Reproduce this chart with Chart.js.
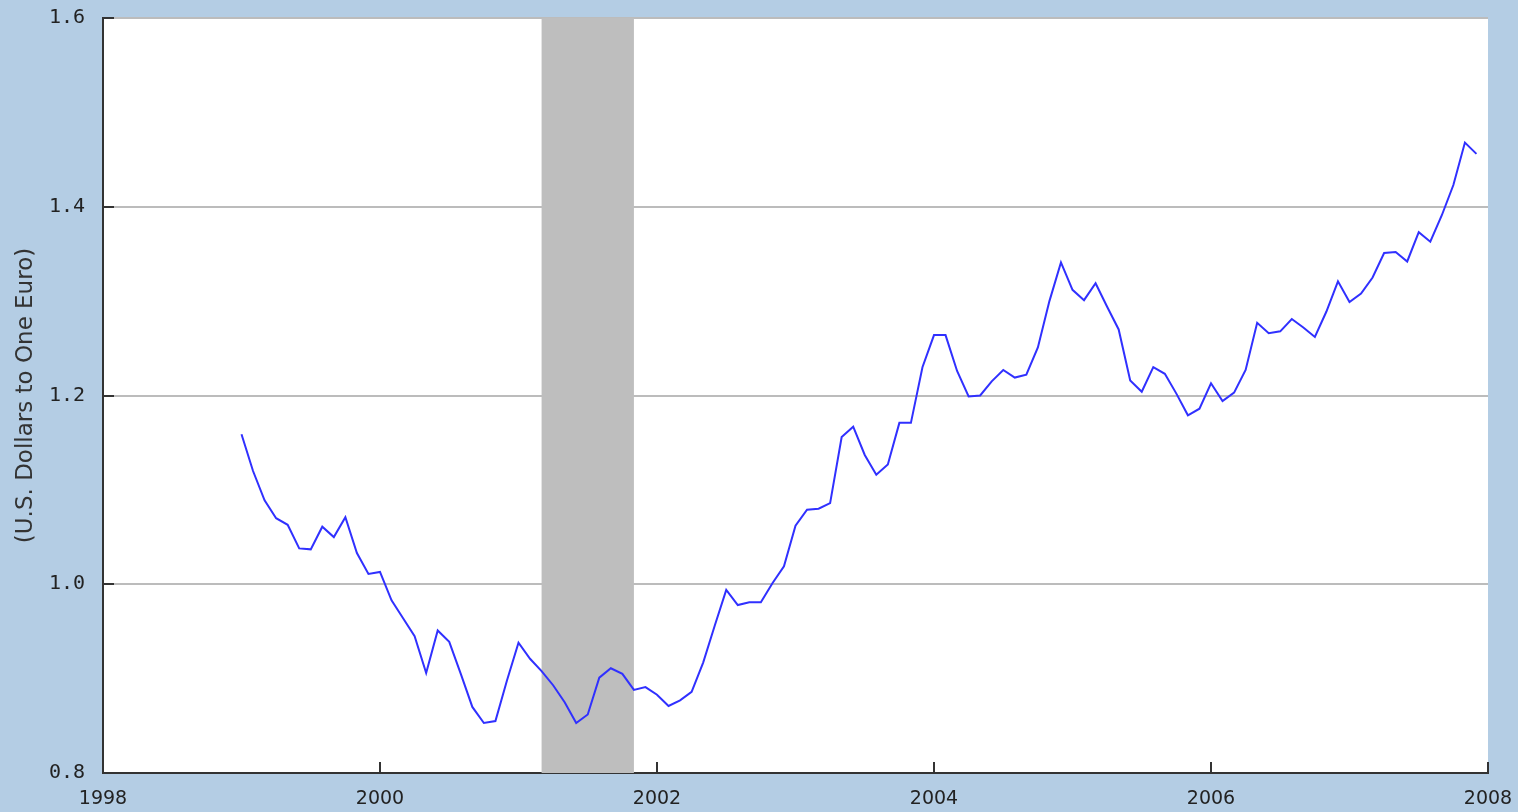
<!DOCTYPE html>
<html>
<head>
<meta charset="utf-8">
<script src="https://cdn.jsdelivr.net/npm/chart.js@4.4.0/dist/chart.umd.min.js"></script>
<style>
  html, body { margin: 0; padding: 0; background: #b4cde4; }
  #wrap { width: 1518px; height: 812px; }
</style>
</head>
<body>
<div id="wrap"><canvas id="c" width="1518" height="812"></canvas></div>
<script>
// Monthly U.S. Dollars to One Euro, Jan 1999 - Dec 2007
const startYear = 1999;
const rate1999 = [1.159, 1.120, 1.089, 1.070, 1.063, 1.038, 1.037, 1.061, 1.050, 1.071, 1.033, 1.011];
const rate2000 = [1.013, 0.983, 0.964, 0.945, 0.906, 0.951, 0.939, 0.905, 0.870, 0.853, 0.855, 0.898];
const rate2001 = [0.938, 0.921, 0.908, 0.893, 0.875, 0.853, 0.862, 0.901, 0.911, 0.905, 0.888, 0.891];
const rate2002 = [0.883, 0.871, 0.877, 0.886, 0.917, 0.956, 0.994, 0.978, 0.981, 0.981, 1.001, 1.019];
const rate2003 = [1.062, 1.079, 1.080, 1.086, 1.156, 1.167, 1.137, 1.116, 1.127, 1.171, 1.171, 1.230];
const rate2004 = [1.264, 1.264, 1.226, 1.199, 1.200, 1.215, 1.227, 1.219, 1.222, 1.251, 1.300, 1.341];
const rate2005 = [1.312, 1.301, 1.319, 1.294, 1.270, 1.216, 1.204, 1.230, 1.223, 1.202, 1.179, 1.186];
const rate2006 = [1.213, 1.194, 1.203, 1.227, 1.277, 1.266, 1.268, 1.281, 1.272, 1.262, 1.289, 1.321];
const rate2007 = [1.299, 1.308, 1.325, 1.351, 1.352, 1.342, 1.373, 1.363, 1.391, 1.423, 1.468, 1.456];
const yearlyRates = [rate1999, rate2000, rate2001, rate2002, rate2003, rate2004, rate2005, rate2006, rate2007];

// Recession (shaded) period: [year, month]
const recessionStart = [2001, 3];
const recessionEnd = [2001, 11];

// Axis ticks
const xTickYears = [1998, 2000, 2002, 2004, 2006, 2008];
const yTickValues = [0.8, 1.0, 1.2, 1.4, 1.6];

const points = [];
yearlyRates.forEach((arr, yi) => {
  arr.forEach((v, m) => points.push({ x: startYear + yi + m / 12, y: v }));
});

const bgPlugin = {
  id: 'bg',
  beforeDraw(chart) {
    const { ctx, chartArea: a } = chart;
    ctx.save();
    ctx.fillStyle = '#b4cde4';
    ctx.fillRect(0, 0, chart.width, chart.height);
    ctx.fillStyle = '#ffffff';
    ctx.fillRect(a.left, a.top, a.right - a.left, a.bottom - a.top);
    ctx.restore();
  }
};

const recessionPlugin = {
  id: 'recession',
  beforeDatasetsDraw(chart) {
    const { ctx, chartArea: a, scales } = chart;
    const x0 = scales.x.getPixelForValue(recessionStart[0] + (recessionStart[1] - 1) / 12);
    const x1 = scales.x.getPixelForValue(recessionEnd[0] + (recessionEnd[1] - 1) / 12);
    ctx.save();
    ctx.fillStyle = '#bebebe';
    ctx.fillRect(x0, a.top, x1 - x0, a.bottom - a.top);
    ctx.restore();
  }
};

const innerTicksPlugin = {
  id: 'innerTicks',
  afterDatasetsDraw(chart) {
    const { ctx, chartArea: a, scales } = chart;
    ctx.save();
    ctx.strokeStyle = '#333333';
    ctx.lineWidth = 2;
    xTickYears.forEach(v => {
      const px = Math.round(scales.x.getPixelForValue(v));
      ctx.beginPath();
      ctx.moveTo(px, a.bottom);
      ctx.lineTo(px, a.bottom - 11);
      ctx.stroke();
    });
    yTickValues.forEach(v => {
      const py = Math.round(scales.y.getPixelForValue(v));
      ctx.beginPath();
      ctx.moveTo(a.left, py);
      ctx.lineTo(a.left + 11, py);
      ctx.stroke();
    });
    ctx.restore();
  }
};

new Chart(document.getElementById('c'), {
  type: 'line',
  data: {
    datasets: [{
      data: points,
      borderColor: '#3030ff',
      borderWidth: 2,
      pointRadius: 0,
      tension: 0,
      fill: false
    }]
  },
  options: {
    responsive: false,
    animation: false,
    layout: { padding: { top: 18, right: 30, left: 0, bottom: 0 } },
    plugins: { legend: { display: false }, tooltip: { enabled: false } },
    scales: {
      x: {
        type: 'linear',
        min: 1998,
        max: 2008,
        afterBuildTicks(axis) { axis.ticks = xTickYears.map(v => ({ value: v })); },
        afterFit(axis) {
          axis.height = 39;
          axis.paddingLeft = 0;
          axis.paddingRight = 0;
        },
        grid: { display: false, drawTicks: false },
        border: { display: true, color: '#333333', width: 2 },
        ticks: {
          maxRotation: 0,
          autoSkip: false,
          padding: 15,
          color: '#222222',
          font: { family: 'DejaVu Sans', size: 19 },
          callback: v => String(v)
        }
      },
      y: {
        min: 0.8,
        max: 1.6,
        afterBuildTicks(axis) { axis.ticks = yTickValues.map(v => ({ value: v })); },
        afterFit(axis) {
          axis.width = 103;
          axis.paddingTop = 0;
          axis.paddingBottom = 0;
        },
        grid: { color: '#bcbcbc', lineWidth: 2, drawTicks: false },
        border: { display: true, color: '#333333', width: 2 },
        ticks: {
          padding: 18,
          color: '#222222',
          font: { family: 'DejaVu Sans Mono', size: 20 },
          callback: v => v.toFixed(1)
        },
        title: {
          display: true,
          text: '(U.S. Dollars to One Euro)',
          color: '#333333',
          font: { family: 'DejaVu Sans', size: 23 },
          padding: { top: 12, bottom: 0 }
        }
      }
    }
  },
  plugins: [bgPlugin, recessionPlugin, innerTicksPlugin]
});
</script>
</body>
</html>
